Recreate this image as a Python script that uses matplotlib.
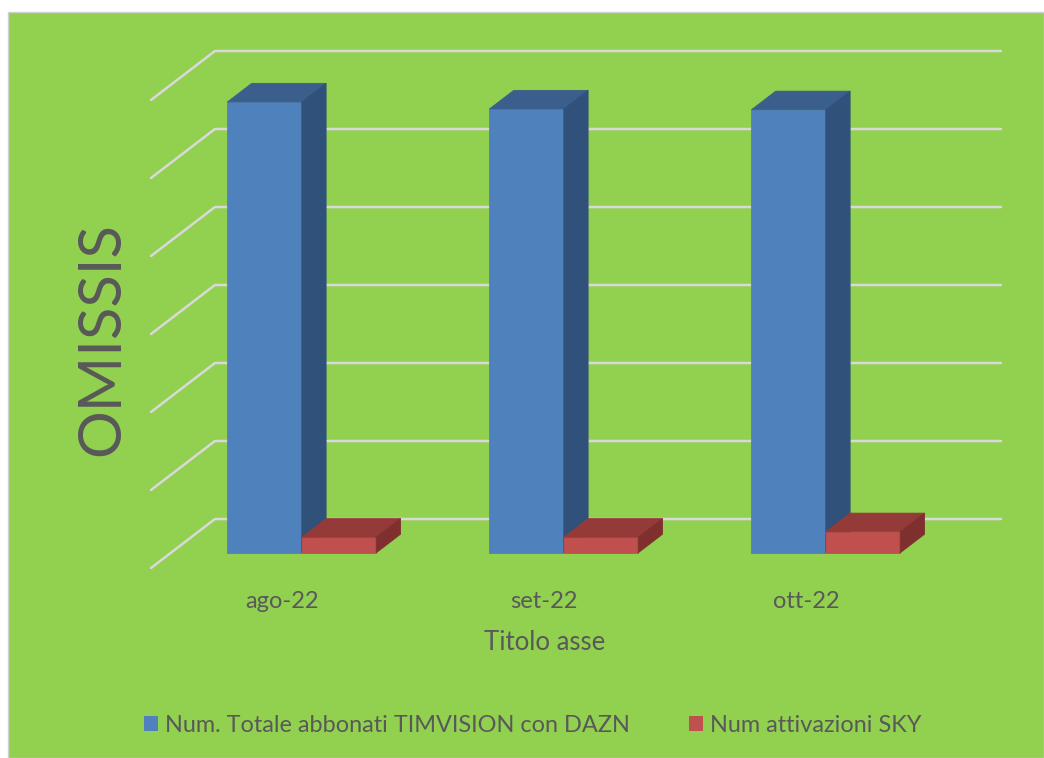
import matplotlib.pyplot as plt
from matplotlib.patches import Polygon, Rectangle, Patch

months = ["ago-22", "set-22", "ott-22"]
timvision_dazn = [5.78, 5.69, 5.68]
sky = [0.20, 0.20, 0.27]
series_names = ["Num. Totale abbonati TIMVISION con DAZN", "Num attivazioni SKY"]
grid_levels = [0, 1, 2, 3, 4, 5, 6]

# fake 3d: oblique offset for one full unit of depth
DX, DY = 0.244, 0.628
W = 0.284            # bar width
D0, D1 = 0.31, 0.69  # bar depth range

faces = {
    0: ("#4f81bd", "#3b5f8c", "#30517a"),
    1: ("#c0504d", "#943b39", "#7f302e"),
}
green = "#92d050"
txt = "#595959"

plt.rcParams['font.family'] = ['Lato', 'DejaVu Sans']

fig = plt.figure(figsize=(10.44, 7.58), dpi=100)
fig.patch.set_facecolor("white")
fig.patches.append(Rectangle((8 / 1044, 0), 1 - 8 / 1044, 1 - 12 / 758,
                             transform=fig.transFigure, facecolor=green,
                             edgecolor="#d0d0d0", lw=1, zorder=-5))

ax = fig.add_axes([0, 0, 1, 1])
ax.set_xlim(-282 / 262, (1044 - 282) / 262)
ax.set_ylim((568 - 758) / 78, 568 / 78)
ax.axis("off")


def pt(x, v, d):
    return (x + DX * d, v + DY * d)


# walls: slanted side lines then horizontal back lines
x_left, x_right = -0.5, len(months) - 0.5
for g in grid_levels:
    xs, ys = zip(pt(x_left, g, 0), pt(x_left, g, 1), pt(x_right, g, 1))
    ax.plot(xs, ys, color="#d9d9d9", lw=1.8, solid_capstyle="round", zorder=1)


def box(x0, x1, h, cols):
    front, top, side = cols
    polys = [
        ([pt(x0, 0, D0), pt(x1, 0, D0), pt(x1, h, D0), pt(x0, h, D0)], front),
        ([pt(x0, h, D0), pt(x1, h, D0), pt(x1, h, D1), pt(x0, h, D1)], top),
        ([pt(x1, 0, D0), pt(x1, 0, D1), pt(x1, h, D1), pt(x1, h, D0)], side),
    ]
    for verts, c in polys:
        ax.add_patch(Polygon(verts, closed=True, facecolor=c, edgecolor=c,
                             lw=0.6, zorder=3))


for i, m in enumerate(months):
    box(i - W, i, timvision_dazn[i], faces[0])
    box(i, i + W, sky[i], faces[1])
    ax.text(i, (568 - 601) / 78, m, ha="center", va="center",
            fontsize=17, color=txt)

ax.text((545 - 282) / 262, (568 - 643) / 78, "Titolo asse", ha="center",
        va="center", fontsize=18.5, color=txt)
ax.text((102 - 282) / 262, (568 - 339) / 78, "OMISSIS", rotation=90,
        ha="center", va="center", fontsize=43, color=txt)

handles = [Patch(facecolor=faces[0][0], edgecolor="none"),
           Patch(facecolor=faces[1][0], edgecolor="none")]
fig.legend(handles, series_names, loc="center", bbox_to_anchor=(0.5105, 0.0435),
           ncol=2, frameon=False, fontsize=16.9, labelcolor=txt,
           handlelength=0.6, handleheight=0.6, handletextpad=0.3,
           columnspacing=2.5)

fig.savefig("out.png", dpi=100)
